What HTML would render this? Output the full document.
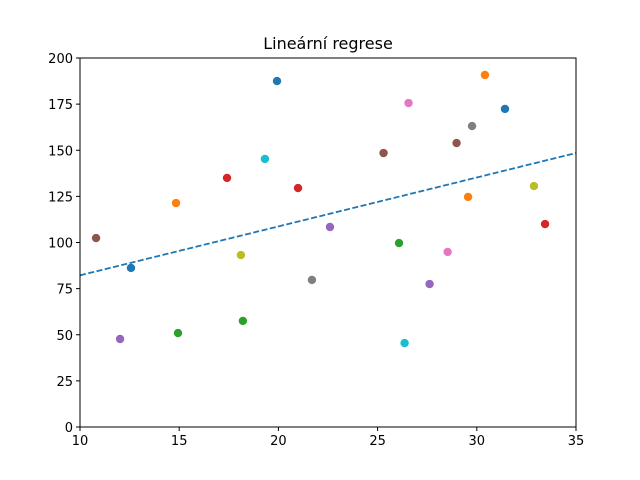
<!DOCTYPE html>
<html><head><meta charset="utf-8"><style>body{margin:0;background:#fff}svg{display:block;font-family:"DejaVu Sans","Liberation Sans",sans-serif}</style></head>
<body>
<svg id="chart" width="640" height="480"></svg>
<script>
const xs=[10.81,12.02,12.57,14.84,14.94,17.41,18.11,18.21,19.32,19.93,20.99,21.69,22.60,25.30,26.08,26.36,26.56,27.62,28.53,28.98,29.56,29.76,30.41,31.42,32.88,33.44];
const ys=[102.4,47.7,86.2,121.4,50.9,135.0,93.2,57.5,145.3,187.5,129.5,79.7,108.4,148.5,99.7,45.5,175.6,77.5,94.9,153.9,124.7,163.1,190.8,172.4,130.6,110.0];
const colors=["#8c564b","#9467bd","#1f77b4","#ff7f0e","#2ca02c","#d62728","#bcbd22","#2ca02c","#17becf","#1f77b4","#d62728","#7f7f7f","#9467bd","#8c564b","#2ca02c","#17becf","#e377c2","#9467bd","#e377c2","#8c564b","#ff7f0e","#7f7f7f","#ff7f0e","#1f77b4","#bcbd22","#d62728"];
const lineX=[10,35];
const lineY=[82.2,148.5];
const xTicks=[10,15,20,25,30,35];
const yTicks=[0,25,50,75,100,125,150,175,200];
const svg=document.getElementById('chart');const NS='http://www.w3.org/2000/svg';
const L=80,R=576,T=58,B=427;
const sx=v=>L+(v-10)/25*(R-L);const sy=v=>B-v/200*(B-T);
function mk(t,a,p){const e=document.createElementNS(NS,t);for(const k in a)e.setAttribute(k,a[k]);(p||svg).appendChild(e);return e;}
const t=mk('text',{x:328,y:49,'text-anchor':'middle','font-size':16});t.textContent='Lineární regrese';


xTicks.forEach(v=>{const g=mk('g',{});


mk('line',{x1:sx(v),x2:sx(v),y1:B,y2:B+4,stroke:'#000'},g);const tx=mk('text',{x:sx(v),y:B+18,'text-anchor':'middle','font-size':13},g);tx.textContent=v;});
yTicks.forEach(v=>{const g=mk('g',{});


mk('line',{x1:L-4,x2:L,y1:sy(v),y2:sy(v),stroke:'#000'},g);const tx=mk('text',{x:L-7,y:sy(v)+5,'text-anchor':'end','font-size':13},g);tx.textContent=v;});
xs.forEach((x,i)=>{const c=mk('circle',{cx:sx(x),cy:sy(ys[i]),r:4.2,fill:colors[i]});

});
const ln=mk('line',{x1:sx(lineX[0]),y1:sy(lineY[0]),x2:sx(lineX[1]),y2:sy(lineY[1]),stroke:'#1f77b4','stroke-width':1.8,'stroke-dasharray':'6,2.5'});


const fr=mk('rect',{x:L,y:T,width:R-L,height:B-T,fill:'none',stroke:'#000','stroke-width':1});


</script>
</body></html>
